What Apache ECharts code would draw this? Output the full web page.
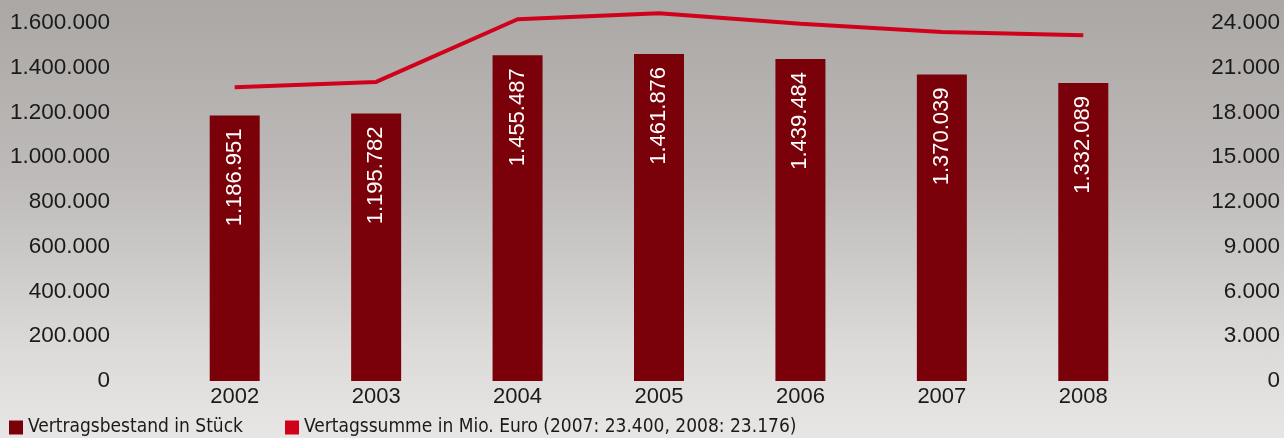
<!DOCTYPE html>
<html><head><meta charset="utf-8">
<script src="https://cdn.jsdelivr.net/npm/echarts@6/dist/echarts.min.js"></script>
<style>html,body{margin:0;padding:0;}#c{width:1284px;height:438px;background:linear-gradient(to bottom,#aaa7a4 0%,#bdbab9 40%,#dcdbd9 80%,#e7e6e4 100%);}</style>
</head><body><div id="c"></div>
<script>
const years = ['2002','2003','2004','2005','2006','2007','2008'];
const vertragsbestand = [1186951, 1195782, 1455487, 1461876, 1439484, 1370039, 1332089];
const vertragssumme = [19700, 20050, 24250, 24650, 23950, 23400, 23176];
const leftTicks = {min:0, max:1600000, interval:200000};
const rightTicks = {min:0, max:24000, interval:3000};
const seriesNames = ['Vertragsbestand in Stück', 'Vertagssumme in Mio. Euro (2007: 23.400, 2008: 23.176)'];

function fmt(v){ return String(Math.round(v)).replace(/\B(?=(\d{3})+(?!\d))/g,'.'); }
const font = '"Liberation Sans", Arial, sans-serif';
const chart = echarts.init(document.getElementById('c'), null, {renderer:'canvas'});
chart.setOption({
  backgroundColor:'transparent',
  animation:false,
  grid:{left:164,right:130,top:23,bottom:57},
  legend:{
    left:4, top:413, itemWidth:14, itemHeight:14, itemGap:42, icon:'rect',
    textStyle:{fontFamily:'"DejaVu Sans Condensed", "Liberation Sans Narrow", sans-serif', fontSize:19, color:'#1a1a1a'},
    data:[{name:seriesNames[0],itemStyle:{color:'#7a0009'}},{name:seriesNames[1],itemStyle:{color:'#d0021b'}}]
  },
  xAxis:{type:'category',data:years,
    axisLine:{show:false},axisTick:{show:false},
    axisLabel:{color:'#1a1a1a',fontFamily:font,fontSize:22,margin:5}},
  yAxis:[
    {type:'value',min:leftTicks.min,max:leftTicks.max,interval:leftTicks.interval,
     splitLine:{show:false},axisLine:{show:false},axisTick:{show:false},
     axisLabel:{color:'#1a1a1a',fontFamily:font,fontSize:22.5,margin:54,formatter:fmt}},
    {type:'value',min:rightTicks.min,max:rightTicks.max,interval:rightTicks.interval,position:'right',
     splitLine:{show:false},axisLine:{show:false},axisTick:{show:false},
     axisLabel:{color:'#1a1a1a',fontFamily:font,fontSize:22.5,margin:126,align:'right',formatter:fmt}}
  ],
  series:[
    {name:seriesNames[0],type:'bar',data:vertragsbestand,barWidth:50,
     itemStyle:{color:'#7a0009'},
     label:{show:true,position:'insideTop',rotate:90,align:'right',verticalAlign:'middle',distance:13,
       color:'#ffffff',fontFamily:font,fontSize:22,formatter:p=>fmt(p.value)}},
    {name:seriesNames[1],type:'line',yAxisIndex:1,data:vertragssumme,symbol:'none',clip:false,
     lineStyle:{color:'#d0021b',width:4},itemStyle:{color:'#d0021b'}}
  ]
});
</script></body></html>
